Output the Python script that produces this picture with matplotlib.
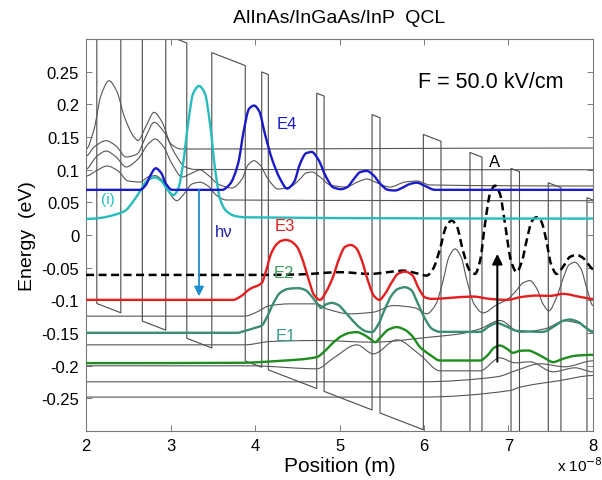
import numpy as np
import matplotlib
matplotlib.use("Agg")
import matplotlib.pyplot as plt
from matplotlib.path import Path
from matplotlib.patches import PathPatch

plt.rcParams['font.family'] = ['Liberation Sans', 'DejaVu Sans']

# position in units of 1e-8 m, energy in eV
field = 0.05            # eV per 1e-8 m  (50 kV/cm)
band_offset = 0.452     # barrier height
well_ref = 0.0014       # well bottom energy at x = 0
interfaces = [2.127, 2.411, 2.666, 2.943, 3.192, 3.488, 3.884, 4.079, 4.157,
              4.730, 4.817, 5.385, 5.479, 5.992, 6.201, 6.544, 6.686, 7.030,
              7.130, 7.471, 7.621, 7.929]

e4_x = [2.000, 2.639, 2.710, 2.757, 2.825, 2.888, 2.947, 3.018, 3.609, 3.704, 3.799,
        3.870, 3.929, 3.988, 4.047, 4.118, 4.201, 4.296, 4.379, 4.462, 4.533, 4.604,
        4.671, 4.746, 4.840, 4.923, 5.018, 5.089, 5.172, 5.243, 5.322, 5.396, 5.491,
        5.574, 5.657, 5.740, 5.834, 5.914, 6.012, 6.130, 8.000]
e4_y = [0.069, 0.069, 0.077, 0.090, 0.102, 0.095, 0.078, 0.069, 0.069, 0.078, 0.109,
        0.162, 0.193, 0.198, 0.190, 0.154, 0.116, 0.086, 0.071, 0.081, 0.109, 0.125,
        0.127, 0.116, 0.089, 0.073, 0.070, 0.073, 0.086, 0.096, 0.098, 0.092, 0.077,
        0.069, 0.068, 0.072, 0.078, 0.080, 0.075, 0.069, 0.069]

inj_x = [2.000, 2.166, 2.343, 2.462, 2.556, 2.639, 2.722, 2.813, 2.888, 2.959, 3.033,
         3.089, 3.148, 3.207, 3.266, 3.337, 3.408, 3.467, 3.527, 3.586, 3.657, 3.763,
         3.882, 8.000]
inj_y = [0.0245, 0.026, 0.031, 0.037, 0.051, 0.067, 0.083, 0.088, 0.083, 0.070, 0.061,
         0.070, 0.109, 0.170, 0.216, 0.228, 0.216, 0.170, 0.101, 0.055, 0.037, 0.029,
         0.027, 0.025]

e3_x = [2.000, 3.740, 3.822, 3.941, 4.079, 4.130, 4.189, 4.249, 4.308, 4.367, 4.426,
        4.497, 4.568, 4.639, 4.698, 4.769, 4.840, 4.923, 4.994, 5.065, 5.132, 5.195,
        5.266, 5.337, 5.408, 5.471, 5.538, 5.621, 5.692, 5.775, 5.858, 5.941, 6.012,
        6.095, 6.308, 6.580, 6.781, 6.982, 7.160, 7.337, 7.491, 7.645, 7.846, 8.000]
e3_y = [-0.0994, -0.0994, -0.0948, -0.0826, -0.0734, -0.055, -0.029, -0.0153, -0.0092,
        -0.0076, -0.0099, -0.0183, -0.0398, -0.0703, -0.0917, -0.0994, -0.0872, -0.0642,
        -0.0367, -0.0183, -0.0153, -0.0199, -0.0398, -0.0703, -0.0933, -0.0994, -0.0902,
        -0.0719, -0.0596, -0.0561, -0.0612, -0.0826, -0.0956, -0.0979, -0.0963, -0.0943,
        -0.0979, -0.0994, -0.0948, -0.0928, -0.0933, -0.0902, -0.0948, -0.0979]

e2_x = [2.000, 3.787, 3.882, 4.000, 4.079, 4.142, 4.213, 4.296, 4.391, 4.509, 4.592,
        4.675, 4.746, 4.781, 4.840, 4.911, 4.982, 5.065, 5.148, 5.243, 5.314, 5.385,
        5.456, 5.538, 5.621, 5.692, 5.775, 5.846, 5.929, 6.012, 6.095, 6.189, 6.663,
        6.781, 6.864, 6.959, 7.101, 7.408, 7.550, 7.645, 7.728, 7.822, 7.917, 8.000]
e2_y = [-0.1498, -0.1498, -0.1468, -0.1422, -0.1387, -0.1254, -0.1055, -0.0887, -0.0826,
        -0.0815, -0.0841, -0.0948, -0.107, -0.1116, -0.1063, -0.104, -0.107, -0.1177,
        -0.130, -0.1422, -0.1476, -0.1488, -0.1376, -0.1131, -0.0917, -0.0826, -0.080,
        -0.0841, -0.1055, -0.1284, -0.1437, -0.1483, -0.1483, -0.1391, -0.135, -0.1391,
        -0.1468, -0.1483, -0.1391, -0.1315, -0.1295, -0.133, -0.1422, -0.1488]

e1_x = [2.000, 3.822, 4.296, 4.730, 4.828, 4.923, 5.030, 5.124, 5.207, 5.290, 5.361,
        5.420, 5.479, 5.574, 5.677, 5.775, 5.858, 5.953, 6.071, 6.189, 6.663, 6.757,
        6.828, 6.899, 6.982, 7.053, 7.136, 7.231, 7.337, 7.444, 7.527, 7.645, 7.787, 8.000]
e1_y = [-0.1962, -0.1957, -0.1927, -0.187, -0.1774, -0.1651, -0.1544, -0.1498, -0.1488,
        -0.1529, -0.159, -0.1641, -0.1575, -0.1453, -0.1411, -0.1453, -0.1544, -0.1717,
        -0.1835, -0.1922, -0.1922, -0.1835, -0.1728, -0.1693, -0.1743, -0.1804, -0.1774,
        -0.1769, -0.182, -0.1896, -0.1947, -0.1896, -0.185, -0.1835]

a_x = [2.000, 4.059, 4.533, 5.006, 5.361, 5.598, 5.752, 5.893, 6.032, 6.107, 6.189,
       6.260, 6.328, 6.391, 6.462, 6.544, 6.604, 6.663, 6.722, 6.781, 6.840, 6.899,
       6.959, 7.030, 7.097, 7.160, 7.219, 7.278, 7.334, 7.385, 7.444, 7.503, 7.570,
       7.645, 7.728, 7.807, 7.882, 7.941, 8.000]
a_y = [-0.0612, -0.0612, -0.0604, -0.057, -0.0596, -0.0566, -0.0546, -0.0581, -0.0622,
       -0.052, -0.0214, 0.0122, 0.0219, 0.0122, -0.0245, -0.055, -0.0596, -0.0398,
       0.0168, 0.0627, 0.0754, 0.0627, 0.0168, -0.0398, -0.057, -0.0398, -0.0061,
       0.0214, 0.0271, 0.0214, -0.0061, -0.0443, -0.0596, -0.0489, -0.0336, -0.0306,
       -0.0352, -0.0443, -0.052]

# other states (thin grey)
grey_states = [
    ([2.000, 2.095, 2.174, 2.272, 2.367, 2.450, 2.568, 2.615, 2.710, 2.805, 2.899,
      3.006, 3.124, 8.000],
     [0.1315, 0.162, 0.2125, 0.236, 0.2187, 0.182, 0.1498, 0.1445, 0.1667, 0.1876,
      0.1728, 0.1391, 0.1315, 0.133]),
    ([2.000, 2.095, 2.237, 2.355, 2.473, 2.604, 2.710, 2.805, 2.923, 3.041, 3.172,
      3.290, 8.000],
     [0.1208, 0.1346, 0.1442, 0.1361, 0.1193, 0.1239, 0.1514, 0.1723, 0.1575, 0.1269,
      0.104, 0.1002, 0.0998]),
    ([2.000, 2.118, 2.237, 2.355, 2.473, 2.615, 2.734, 2.817, 2.911, 3.018, 3.136,
      3.254, 3.349, 3.444, 3.562, 3.728, 3.846, 3.917, 3.988, 4.059, 4.154, 4.272,
      4.414, 4.533, 4.604, 4.675, 4.769, 4.888, 5.065, 5.243, 5.325, 5.420, 5.598,
      5.775, 5.917, 6.071, 8.000],
     [0.1009, 0.1193, 0.1284, 0.1193, 0.104, 0.1162, 0.1391, 0.1468, 0.1361, 0.1086,
      0.0887, 0.0948, 0.0994, 0.0917, 0.078, 0.0719, 0.0856, 0.107, 0.1136, 0.107,
      0.0856, 0.0703, 0.0734, 0.0856, 0.0948, 0.0963, 0.0887, 0.0765, 0.0734, 0.0826,
      0.0856, 0.081, 0.0734, 0.081, 0.0826, 0.0765, 0.0749]),
    ([2.000, 2.118, 2.249, 2.379, 2.497, 2.639, 2.734, 2.817, 2.899, 2.994, 3.073,
      3.160, 3.254, 3.349, 3.444, 3.538, 3.657, 8.000],
     [0.0902, 0.0979, 0.1055, 0.0979, 0.0826, 0.081, 0.0887, 0.0907, 0.0841, 0.0627,
      0.0524, 0.0627, 0.078, 0.0806, 0.0749, 0.0612, 0.0535, 0.0524]),
    ([2.000, 3.882, 4.000, 4.178, 4.414, 4.730, 4.848, 5.124, 5.400, 5.637, 5.893,
      6.032, 6.142, 6.225, 6.296, 6.367, 6.438, 6.509, 6.592, 6.698, 6.860, 6.994,
      7.089, 7.172, 7.254, 7.337, 7.408, 7.479, 7.562, 7.645, 7.716, 7.787, 7.858,
      7.929, 8.000],
     [-0.1243, -0.1243, -0.1193, -0.1081, -0.1055, -0.1055, -0.1131, -0.1208, -0.1182,
      -0.1081, -0.1116, -0.1208, -0.1055, -0.0703, -0.0336, -0.0214, -0.0336, -0.0703,
      -0.1055, -0.1193, -0.107, -0.0979, -0.0856, -0.0734, -0.0699, -0.0826, -0.1055,
      -0.1162, -0.0979, -0.0673, -0.0459, -0.0418, -0.052, -0.0826, -0.1081]),
    ([2.000, 3.882, 4.178, 4.730, 5.400, 6.071, 6.426, 6.663, 6.899, 7.136, 7.432,
      7.669, 7.846, 8.000],
     [-0.1682, -0.1682, -0.1631, -0.1616, -0.1641, -0.1564, -0.1514, -0.1437, -0.131,
      -0.1488, -0.1437, -0.1315, -0.136, -0.1468]),
    ([2.000, 3.941, 4.730, 4.927, 5.204, 5.400, 5.677, 5.953, 6.189, 6.663, 6.899,
      7.077, 7.254, 7.527, 7.787, 8.000],
     [-0.2003, -0.2003, -0.2049, -0.1886, -0.1682, -0.1820, -0.1606, -0.1835, -0.2080,
      -0.2080, -0.1881, -0.1957, -0.1942, -0.2095, -0.2034, -0.2095]),
    ([2.000, 5.953, 6.864, 7.101, 7.373, 7.669, 8.000],
     [-0.2248, -0.2248, -0.2171, -0.207, -0.1972, -0.2018, -0.1927]),
    ([2.000, 5.953, 7.018, 7.136, 7.609, 8.000],
     [-0.2482, -0.2482, -0.2381, -0.2330, -0.2229, -0.2152]),
]


def smooth_curve(xs, ys):
    # cubic Bezier path through the read points (shape preserving tangents)
    x = np.asarray(xs, float)
    y = np.asarray(ys, float)
    h = np.diff(x)
    d = np.diff(y) / h
    m = np.zeros_like(x)
    for i in range(1, len(x) - 1):
        if d[i - 1] * d[i] > 0:
            w1 = 2 * h[i] + h[i - 1]
            w2 = h[i] + 2 * h[i - 1]
            m[i] = (w1 + w2) / (w1 / d[i - 1] + w2 / d[i])
    verts = [(x[0], y[0])]
    codes = [Path.MOVETO]
    for i in range(len(x) - 1):
        verts += [(x[i] + h[i] / 3, y[i] + m[i] * h[i] / 3),
                  (x[i + 1] - h[i] / 3, y[i + 1] - m[i + 1] * h[i] / 3),
                  (x[i + 1], y[i + 1])]
        codes += [Path.CURVE4] * 3
    return Path(verts, codes)


def draw(ax, xs, ys, **kw):
    ax.add_patch(PathPatch(smooth_curve(xs, ys), fill=False, **kw))


fig = plt.figure(figsize=(6.02, 4.81), dpi=100)
ax = fig.add_axes([0.143, 0.102, 0.842, 0.815])

# conduction band profile
edges = [1.8] + interfaces + [8.2]
band_x, band_y = [], []
for i in range(len(edges) - 1):
    top = band_offset if i % 2 == 0 else 0.0
    for xe in (edges[i], edges[i + 1]):
        band_x.append(xe)
        band_y.append(well_ref - field * xe + top)
ax.plot(band_x, band_y, color='#4a4a4a', lw=0.8, zorder=1)

for gx, gy in grey_states:
    draw(ax, gx, gy, edgecolor='#555555', lw=0.8, zorder=2)

draw(ax, a_x, a_y, edgecolor='black', lw=1.8, linestyle=(0, (3.2, 1.8)), zorder=3)
draw(ax, e1_x, e1_y, edgecolor='#1e8c1e', lw=1.7, zorder=4)
draw(ax, e2_x, e2_y, edgecolor='#3a8c72', lw=1.7, zorder=4)
draw(ax, e3_x, e3_y, edgecolor='#e41e1e', lw=1.7, zorder=4)
draw(ax, inj_x, inj_y, edgecolor='#27bcbc', lw=1.7, zorder=4)
draw(ax, e4_x, e4_y, edgecolor='#1a1ac8', lw=1.7, zorder=5)

# transitions
ax.annotate('', xy=(3.337, -0.094), xytext=(3.337, 0.069),
            arrowprops=dict(arrowstyle='-|>', color='#1e8ed0', lw=1.3,
                            mutation_scale=14, shrinkA=0, shrinkB=0), zorder=6)
ax.annotate('', xy=(6.868, -0.029), xytext=(6.868, -0.194),
            arrowprops=dict(arrowstyle='-|>', color='black', lw=1.5,
                            mutation_scale=15, shrinkA=0, shrinkB=0), zorder=6)

ax.text(4.38, 0.171, 'E4', color='#1a1ac8', fontsize=12, ha='center', va='center')
ax.text(4.355, 0.015, 'E3', color='#e41e1e', fontsize=12, ha='center', va='center')
ax.text(4.343, -0.057, 'E2', color='#3a9a5a', fontsize=12, ha='center', va='center')
ax.text(4.367, -0.154, 'E1', color='#3a9a8a', fontsize=12, ha='center', va='center')
ax.text(2.26, 0.055, '(i)', color='#27bcbc', fontsize=11, ha='center', va='center')
ax.text(3.633, 0.006, 'h\u03bd', color='#2020b0', fontsize=12, ha='center', va='center')
ax.text(6.84, 0.112, 'A', color='black', fontsize=12, ha='center', va='center')
ax.text(6.79, 0.235, 'F = 50.0 kV/cm', color='black', fontsize=15.5, ha='center', va='center')

ax.set_xlim(2, 8)
ax.set_ylim(-0.3, 0.3)
ax.set_xticks(range(2, 9))
ax.set_xticklabels([str(v) for v in range(2, 9)])
yt = [-0.25, -0.2, -0.15, -0.1, -0.05, 0, 0.05, 0.1, 0.15, 0.2, 0.25]
ax.set_yticks(yt)
ax.set_yticklabels(['%g' % v for v in yt])
ax.tick_params(direction='in', top=True, right=True, length=4, width=0.6,
               color='#666666', labelsize=12, pad=5)
for s in ax.spines.values():
    s.set_color('#777777')
    s.set_linewidth(0.8)

ax.set_title('AlInAs/InGaAs/InP  QCL', fontsize=14, pad=12)
ax.set_xlabel('Position (m)', fontsize=15, labelpad=2)
ax.set_ylabel('Energy  (eV)', fontsize=14, labelpad=4)
fig.text(0.925, 0.032, 'x 10$^{-8}$', fontsize=11, ha='left', va='center')

fig.savefig('out.png', dpi=100)
